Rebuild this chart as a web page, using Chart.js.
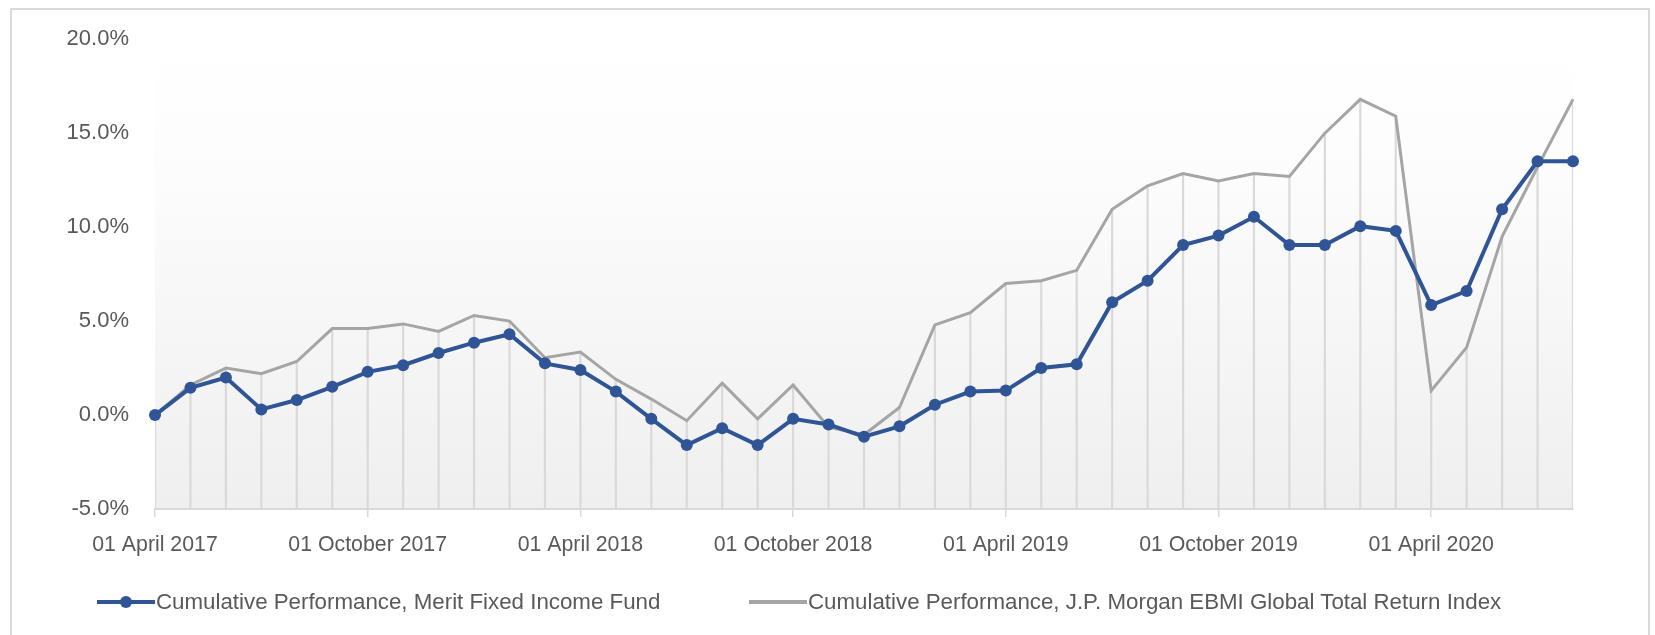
<!DOCTYPE html>
<html>
<head>
<meta charset="utf-8">
<script src="https://cdn.jsdelivr.net/npm/chart.js@4.4.1/dist/chart.umd.min.js"></script>
<style>
  html, body { margin: 0; padding: 0; background: #ffffff; }
  #wrap { position: relative; width: 1655px; height: 635px; overflow: hidden; background: #fff; }
  #frame { position: absolute; left: 10px; top: 8px; width: 1640px; height: 680px; border: 2px solid #d9d9d9; box-sizing: border-box; }
  #chart { position: absolute; left: 0; top: 0; }
  .leg { position: absolute; top: 589px; height: 26px; display: flex; align-items: center;
         font-family: "Liberation Sans", Arial, sans-serif; font-size: 22.3px; color: #595959; white-space: nowrap; }
  .sym { position: relative; width: 58px; height: 26px; margin-right: 1px; }
  .sym .ln { position: absolute; left: 0; right: 0; top: 11px; height: 4px; }
  .sym .dt { position: absolute; left: 23px; top: 7px; width: 12px; height: 12px; border-radius: 50%; }
</style>
</head>
<body>
<div id="wrap">
  <div id="frame"></div>
  <canvas id="chart" width="1655" height="635"></canvas>
  <div class="leg" id="leg1" style="left:97px;"><div class="sym"><div class="ln" style="background:#2F5597"></div><div class="dt" style="background:#2F5597"></div></div><span id="t1"></span></div>
  <div class="leg" id="leg2" style="left:749px;"><div class="sym"><div class="ln" style="background:#A5A5A5"></div></div><span id="t2"></span></div>
</div>
<script>
// ---- data ----
const months = [
  "01 April 2017","01 May 2017","01 June 2017","01 July 2017","01 August 2017","01 September 2017",
  "01 October 2017","01 November 2017","01 December 2017","01 January 2018","01 February 2018","01 March 2018",
  "01 April 2018","01 May 2018","01 June 2018","01 July 2018","01 August 2018","01 September 2018",
  "01 October 2018","01 November 2018","01 December 2018","01 January 2019","01 February 2019","01 March 2019",
  "01 April 2019","01 May 2019","01 June 2019","01 July 2019","01 August 2019","01 September 2019",
  "01 October 2019","01 November 2019","01 December 2019","01 January 2020","01 February 2020","01 March 2020",
  "01 April 2020","01 May 2020","01 June 2020","01 July 2020","01 August 2020"
];
const tickLabels = ["01 April 2017","01 October 2017","01 April 2018","01 October 2018","01 April 2019","01 October 2019","01 April 2020"];
const meritFund = [0.0, 1.45, 2.0, 0.3, 0.8, 1.5, 2.3, 2.65, 3.3, 3.85, 4.3, 2.75, 2.4, 1.25, -0.2, -1.6, -0.7, -1.6, -0.2, -0.5,
  -1.15, -0.6, 0.55, 1.25, 1.3, 2.5, 2.7, 6.0, 7.15, 9.05, 9.55, 10.55, 9.05, 9.05, 10.05, 9.8, 5.85, 6.6, 10.95, 13.5, 13.5];
const jpmIndex = [0.0, 1.6, 2.5, 2.2, 2.85, 4.6, 4.6, 4.85, 4.45, 5.3, 5.0, 3.05, 3.35, 1.9, 0.85, -0.3, 1.7, -0.2, 1.6, -0.65,
  -1.05, 0.4, 4.8, 5.45, 7.0, 7.15, 7.7, 10.95, 12.2, 12.85, 12.45, 12.85, 12.7, 15.0, 16.8, 15.9, 1.3, 3.6, 9.5, 13.2, 16.8];
const yMin = -5, yMax = 20, yStep = 5;
const seriesNames = ["Cumulative Performance, Merit Fixed Income Fund",
                     "Cumulative Performance, J.P. Morgan EBMI Global Total Return Index"];

document.getElementById('t1').textContent = seriesNames[0];
document.getElementById('t2').textContent = seriesNames[1];

const FONT = '"Liberation Sans", Arial, sans-serif';

const bgPlugin = {
  id: 'plotBg',
  beforeDraw(chart) {
    const {ctx, chartArea: a} = chart;
    const g = ctx.createLinearGradient(0, a.top, 0, a.bottom);
    g.addColorStop(0, '#ffffff');
    g.addColorStop(0.3, '#fcfcfc');
    g.addColorStop(1, '#efefef');
    ctx.save();
    ctx.fillStyle = g;
    ctx.fillRect(a.left, a.top, a.right - a.left, a.bottom - a.top);
    ctx.restore();
  }
};

new Chart(document.getElementById('chart'), {
  type: 'line',
  data: {
    labels: months,
    datasets: [
      {
        label: seriesNames[0],
        data: meritFund,
        borderColor: '#2F5597',
        backgroundColor: '#2F5597',
        borderWidth: 4,
        pointRadius: 6,
        pointBorderWidth: 0,
        pointBackgroundColor: '#2F5597',
        tension: 0,
        order: 0
      },
      {
        label: seriesNames[1],
        data: jpmIndex,
        borderColor: '#A5A5A5',
        backgroundColor: '#A5A5A5',
        borderWidth: 3,
        pointRadius: 0,
        tension: 0,
        order: 1
      },
      {
        type: 'bar',
        label: 'drop',
        data: jpmIndex.map(v => [yMin, v]),
        backgroundColor: '#d9d9d9',
        borderWidth: 0,
        barThickness: 1.5,
        order: 2
      }
    ]
  },
  options: {
    responsive: false,
    animation: false,
    layout: { padding: { left: 0, right: 82, top: 35, bottom: 0 } },
    plugins: { legend: { display: false }, tooltip: { enabled: false } },
    scales: {
      x: {
        offset: false,
        afterFit(scale) { scale.height = 126; },
        grid: { display: true, offset: false, drawOnChartArea: false, drawTicks: true, tickLength: 8, color: '#d9d9d9', lineWidth: 1.5 },
        border: { display: true, color: '#d9d9d9', width: 2 },
        ticks: {
          autoSkip: false, maxRotation: 0, minRotation: 0, padding: 15,
          color: '#595959', font: { family: FONT, size: 21.3 },
          callback: (v, i) => tickLabels.includes(months[i]) ? months[i] : null
        }
      },
      y: {
        min: yMin, max: yMax,
        afterFit(scale) { scale.width = 155; },
        grid: { display: false, drawTicks: false },
        border: { display: false },
        ticks: {
          stepSize: yStep, padding: 26, color: '#595959', font: { family: FONT, size: 22 },
          callback: v => v.toFixed(1) + '%'
        }
      }
    }
  },
  plugins: [bgPlugin]
});
</script>
</body>
</html>
